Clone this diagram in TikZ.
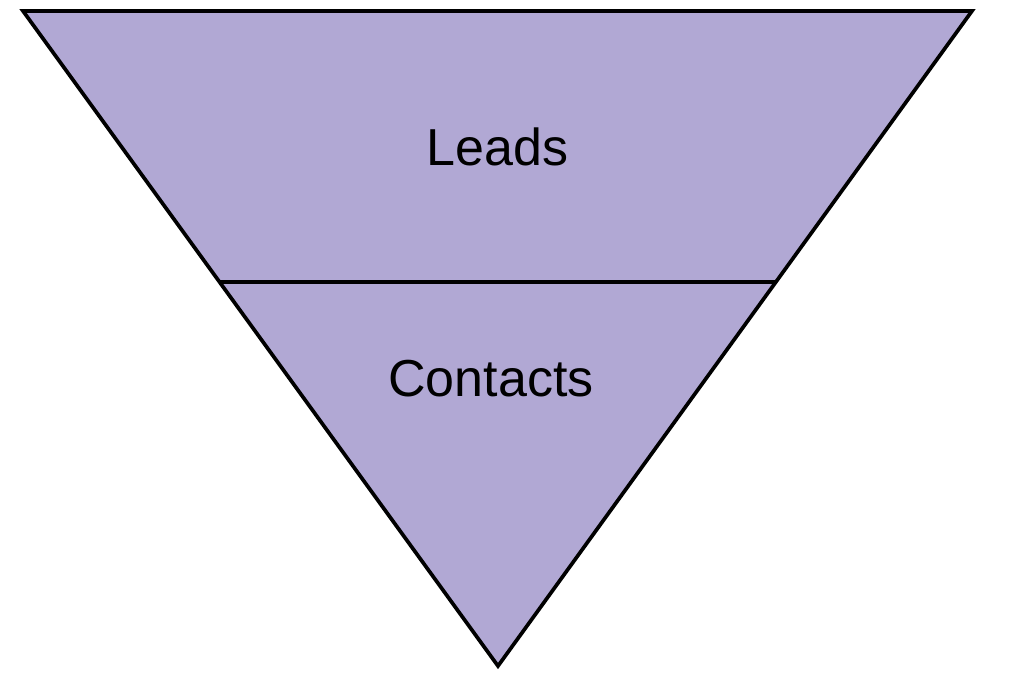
\documentclass[tikz,border=0pt]{standalone}
\usepackage{fontspec}
\setmainfont{Liberation Sans}
\usetikzlibrary{calc}
\definecolor{funnelfill}{RGB}{177,168,212}
\tikzset{
  funnel/.style={fill=funnelfill, draw=black, line width=2.1pt, line join=miter},
  divider/.style={draw=black, line width=2.1pt},
  stagelabel/.style={font=\fontsize{29.6}{34}\selectfont, inner sep=0pt},
}

\begin{document}
\begin{tikzpicture}
\useasboundingbox (0,0) rectangle (20.48,13.80);
\coordinate (tl) at (0.46,13.58);
\coordinate (tr) at (19.44,13.58);
\coordinate (apex) at (9.96,0.48);
\draw[funnel] (tl) -- (tr) -- (apex) -- cycle;
\coordinate (dl) at ($(tl)!0.4137!(apex)$);
\coordinate (dr) at ($(tr)!0.4137!(apex)$);
\draw[divider] (dl) -- (dr);
\node[stagelabel] (leads) at (9.95,10.86) {Leads};
\node[stagelabel] (contacts) at (9.82,6.22) {Contacts};
\end{tikzpicture}
\end{document}
